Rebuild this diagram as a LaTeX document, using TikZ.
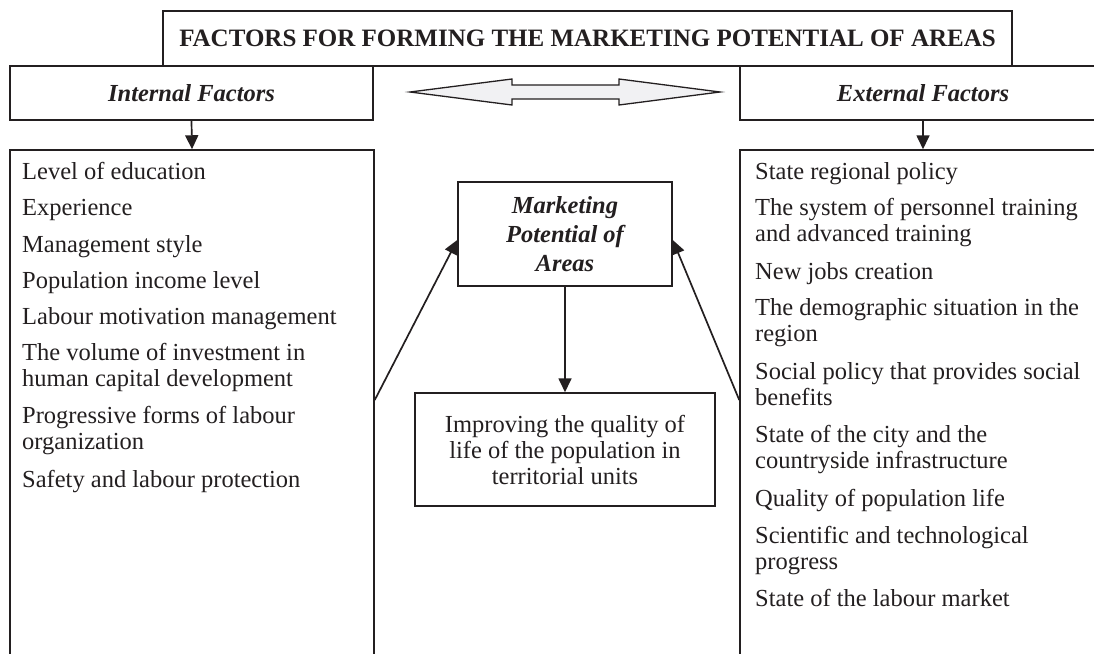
\documentclass[tikz,border=0pt]{standalone}
\usepackage{fontspec}
\setmainfont{Liberation Serif}
\usetikzlibrary{arrows.meta}
\definecolor{ink}{HTML}{231F20}
\definecolor{arrowgray}{HTML}{F1F1F3}
\newcommand\listfont{\fontsize{24.5}{26}\selectfont}
\newcommand\headfont{\fontsize{24.5}{29}\selectfont\bfseries\itshape}
\tikzset{
  boxed/.style={draw=ink, line width=1.5pt, inner sep=0pt, align=center},
  listitem/.style={anchor=north west, inner sep=0pt, align=left, font=\listfont, text=ink},
  conn/.style={draw=ink, line width=1.7pt, -{Triangle[length=14pt,width=13pt]}},
}
\begin{document}
\begin{tikzpicture}[x=1pt,y=-1pt]
\useasboundingbox (0,0) rectangle (1094,653);
% top row
\node[boxed, minimum width=849pt, minimum height=55pt, font=\fontsize{25}{29}\selectfont\bfseries, text=ink] (title) at (587.5,38.5) {FACTORS FOR FORMING THE MARKETING POTENTIAL OF AREAS};
\node[boxed, minimum width=363pt, minimum height=54pt, font=\headfont, text=ink] (intf) at (191.5,93) {Internal Factors};
\node[boxed, minimum width=366pt, minimum height=54pt, font=\headfont, text=ink] (extf) at (923,93) {External Factors};
% double arrow
\draw[ink, line width=1.3pt, fill=arrowgray] (410,92) -- (512,79) -- (512,85) -- (619,85) -- (619,79) -- (720,92) -- (619,105) -- (619,99) -- (512,99) -- (512,105) -- cycle;
% list boxes
\node[boxed, minimum width=364pt, minimum height=600pt] (intlist) at (192,450) {};
\node[boxed, minimum width=366pt, minimum height=600pt] (extlist) at (923,450) {};
% center boxes
\node[boxed, minimum width=214pt, minimum height=104pt, font=\headfont, text=ink] (mkt) at (565,234) {Marketing\\Potential of\\Areas};
\node[boxed, minimum width=300pt, minimum height=113pt, font=\listfont, text=ink] (qual) at (565,449.5) {Improving the quality of\\life of the population in\\territorial units};
% list items left
\node[listitem] (l1) at (22,161) {\strut Level of education};
\node[listitem] (l2) at (22,197) {\strut Experience};
\node[listitem] (l3) at (22,234) {\strut Management style};
\node[listitem] (l4) at (22,270) {\strut Population income level};
\node[listitem] (l5) at (22,306) {\strut Labour motivation management};
\node[listitem] (l6) at (22,342) {\strut The volume of investment in\\human capital development};
\node[listitem] (l7) at (22,405) {\strut Progressive forms of labour\\organization};
\node[listitem] (l8) at (22,469) {\strut Safety and labour protection};
% list items right
\node[listitem] (r1) at (755,161) {\strut State regional policy};
\node[listitem] (r2) at (755,197) {\strut The system of personnel training\\and advanced training};
\node[listitem] (r3) at (755,261) {\strut New jobs creation};
\node[listitem] (r4) at (755,297) {\strut The demographic situation in the\\region};
\node[listitem] (r5) at (755,361) {\strut Social policy that provides social\\benefits};
\node[listitem] (r6) at (755,424) {\strut State of the city and the\\countryside infrastructure};
\node[listitem] (r7) at (755,488) {\strut Quality of population life};
\node[listitem] (r8) at (755,525) {\strut Scientific and technological\\progress};
\node[listitem] (r9) at (755,588) {\strut State of the labour market};
% connectors
\coordinate (ya) at (0,400);
\coordinate (yb) at (0,240);
\coordinate (lstart) at (intlist.east |- ya);
\coordinate (rstart) at (extlist.west |- ya);
\coordinate (ltip) at (mkt.west |- yb);
\coordinate (rtip) at (mkt.east |- yb);
\draw[conn] (intf.south) -- (intlist.north);
\draw[conn] (extf.south) -- (extlist.north);
\draw[conn] (mkt.south) -- (qual.north);
\draw[conn] (lstart) -- (ltip);
\draw[conn] (rstart) -- (rtip);
\end{tikzpicture}
\end{document}
